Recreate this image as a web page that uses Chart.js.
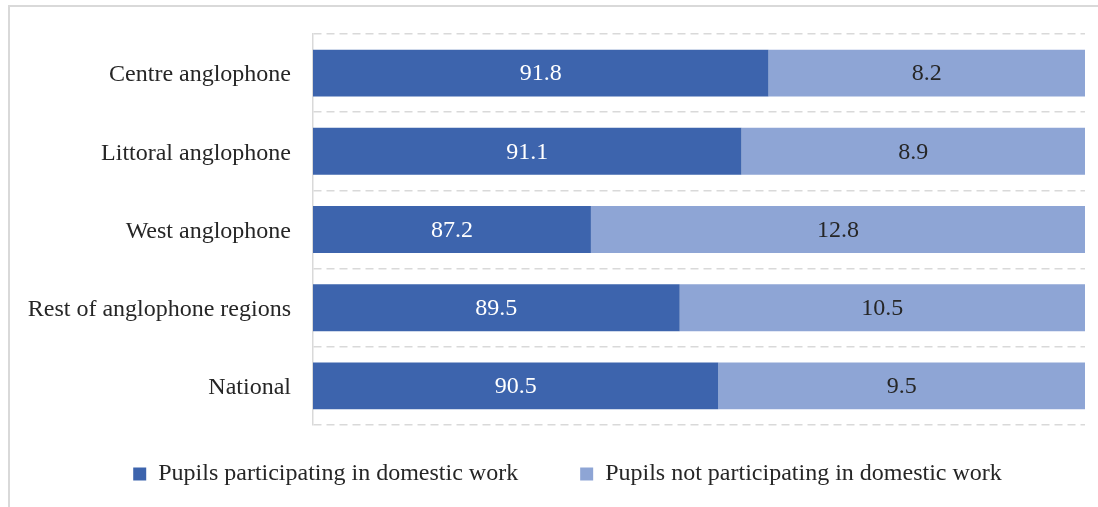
<!DOCTYPE html>
<html>
<head>
<meta charset="utf-8">
<script src="https://cdn.jsdelivr.net/npm/chart.js@4/dist/chart.umd.min.js"></script>
<style>
  html, body { margin: 0; padding: 0; background: #fff; }
  #wrap { position: relative; width: 1098px; height: 507px; }
  #frame { position: absolute; left: 8px; top: 5px; right: -5px; bottom: -5px;
           border-top: 2px solid #d9d9d9; border-left: 2px solid #d9d9d9; }
  canvas { position: absolute; left: 0; top: 0; }
</style>
</head>
<body>
<div id="wrap">
  <div id="frame"></div>
  <canvas id="chart" width="1098" height="507"></canvas>
</div>
<script>
// Datos
const categories = ['Centre anglophone', 'Littoral anglophone', 'West anglophone', 'Rest of anglophone regions', 'National'];
const participating = [91.8, 91.1, 87.2, 89.5, 90.5];
const notParticipating = [8.2, 8.9, 12.8, 10.5, 9.5];
const seriesNames = ['Pupils participating in domestic work', 'Pupils not participating in domestic work'];

const FONT = '"Liberation Serif", "Times New Roman", serif';

// Etiquetas de valor dentro de cada barra
const barLabels = {
    id: 'barLabels',
    afterDatasetsDraw(chart) {
        const ctx = chart.ctx;
        const left = chart.chartArea.left;
        ctx.save();
        ctx.font = '24px ' + FONT;
        ctx.textAlign = 'center';
        ctx.textBaseline = 'middle';
        chart.data.datasets.forEach((ds, i) => {
            const meta = chart.getDatasetMeta(i);
            ctx.fillStyle = i === 0 ? '#ffffff' : '#262626';
            meta.data.forEach((bar, j) => {
                const start = Math.max(bar.base, left);
                const x = (bar.x + start) / 2;
                ctx.fillText(ds.data[j].toFixed(1), x, bar.y + 1);
            });
        });
        ctx.restore();
    }
};

// Mueve la leyenda: más separación entre elementos sin bajarla
const legendShift = {
    id: 'legendShift',
    afterLayout(chart) {
        chart.legend.left += 50;
        chart.legend.top -= 25;
    }
};

new Chart(document.getElementById('chart'), {
    type: 'bar',
    data: {
        labels: categories,
        datasets: [{
            label: seriesNames[0],
            data: participating,
            backgroundColor: '#3d64ad'
        }, {
            label: seriesNames[1],
            data: notParticipating,
            backgroundColor: '#8ea5d5'
        }]
    },
    options: {
        indexAxis: 'y',
        responsive: false,
        animation: false,
        barPercentage: 0.6,
        categoryPercentage: 1,
        layout: { padding: { left: 0, right: 13, top: 34, bottom: 12 } },
        scales: {
            x: {
                display: false,
                stacked: true,
                min: 80,
                max: 100
            },
            y: {
                stacked: true,
                afterFit(scale) {
                    scale.width = 313;
                    scale.paddingTop = 0;
                    scale.paddingBottom = 0;
                },
                grid: {
                    offset: true,
                    drawTicks: false,
                    color: '#d9d9d9',
                    lineWidth: 1.5
                },
                border: { display: true, color: '#d9d9d9', width: 1.5, dash: [8, 5] },
                ticks: {
                    padding: 22,
                    labelOffset: 2,
                    color: '#262626',
                    font: { family: FONT, size: 24 }
                }
            }
        },
        plugins: {
            legend: {
                position: 'bottom',
                maxHeight: 70,
                labels: {
                    boxWidth: 13,
                    boxHeight: 13,
                    padding: 62,
                    color: '#262626',
                    font: { family: FONT, size: 24 }
                }
            },
            tooltip: { enabled: false }
        }
    },
    plugins: [barLabels, legendShift]
});
</script>
</body>
</html>
